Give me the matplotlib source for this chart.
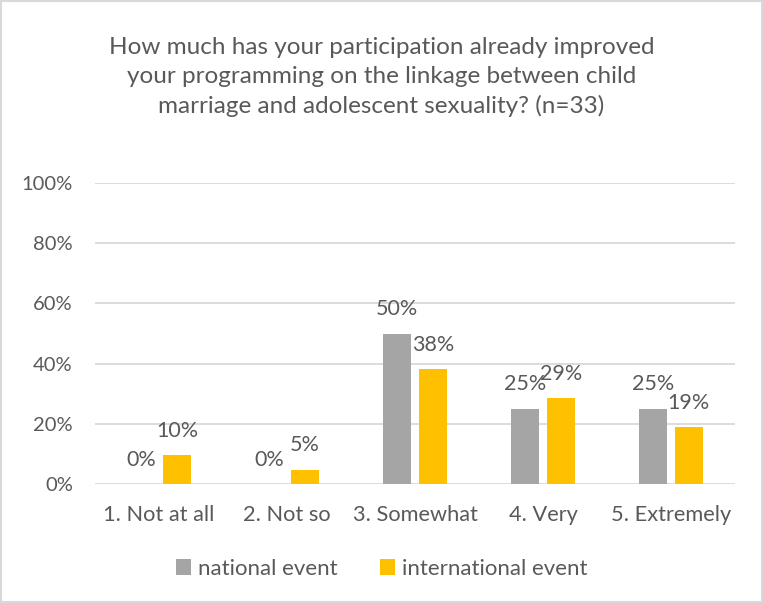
import matplotlib.pyplot as plt
import numpy as np

plt.rcParams['font.family'] = ['Lato', 'DejaVu Sans']

categories = ["1. Not at all", "2. Not so", "3. Somewhat", "4. Very", "5. Extremely"]
national = [0.0, 0.0, 50.0, 25.0, 25.0]
international = [9.5, 4.8, 38.1, 28.6, 19.0]
series_names = ["national event", "international event"]
title = ("How much has your participation already improved\n"
         "your programming on the linkage between child\n"
         "marriage and adolescent sexuality? (n=33)")

txt = '#595959'
gray = '#A5A5A5'
gold = '#FFC000'

fig = plt.figure(figsize=(7.63, 6.03), dpi=100)
ax = fig.add_axes([95/763, 1-484/603, 640/763, 301/603])

x = np.arange(len(categories))
w = 0.22
off = 0.14
b1 = ax.bar(x - off, national, w, color=gray, label=series_names[0])
b2 = ax.bar(x + off, international, w, color=gold, label=series_names[1])

for bars, vals in ((b1, national), (b2, international)):
    for r, v in zip(bars, vals):
        ax.annotate(f"{v:.0f}%", (r.get_x() + r.get_width()/2, v),
                    xytext=(0, 17.5), textcoords='offset points',
                    ha='center', va='center', fontsize=15.5, color=txt)

ax.set_xlim(-0.5, 4.5)
ax.set_ylim(0, 100)
ax.set_yticks(range(0, 101, 20))
ax.set_yticklabels([f"{t}%" for t in range(0, 101, 20)])
ax.set_xticks(x)
ax.set_xticklabels(categories)
ax.tick_params(length=0, colors=txt)
ax.tick_params(axis='y', pad=16, labelsize=14.5)
ax.tick_params(axis='x', pad=15, labelsize=15.7)
ax.grid(axis='y', color='#D9D9D9', linewidth=1.3)
ax.set_axisbelow(True)
for s in ax.spines.values():
    s.set_visible(False)

fig.text(0.5, 1-77/603, title, ha='center', va='center', fontsize=17.5,
         color=txt, linespacing=1.45)

leg = fig.legend(loc='center', bbox_to_anchor=(0.5, 1-569/603), ncol=2,
                 frameon=False, fontsize=16, handlelength=0.7, handleheight=0.7,
                 handletextpad=0.3, columnspacing=1.9)
for t in leg.get_texts():
    t.set_color(txt)

fig.patches.append(plt.Rectangle((1/763, 1/603), 761/763, 601/603,
                                 transform=fig.transFigure, fill=False,
                                 edgecolor='#D9D9D9', linewidth=1.5))

fig.savefig('out.png', dpi=100)
